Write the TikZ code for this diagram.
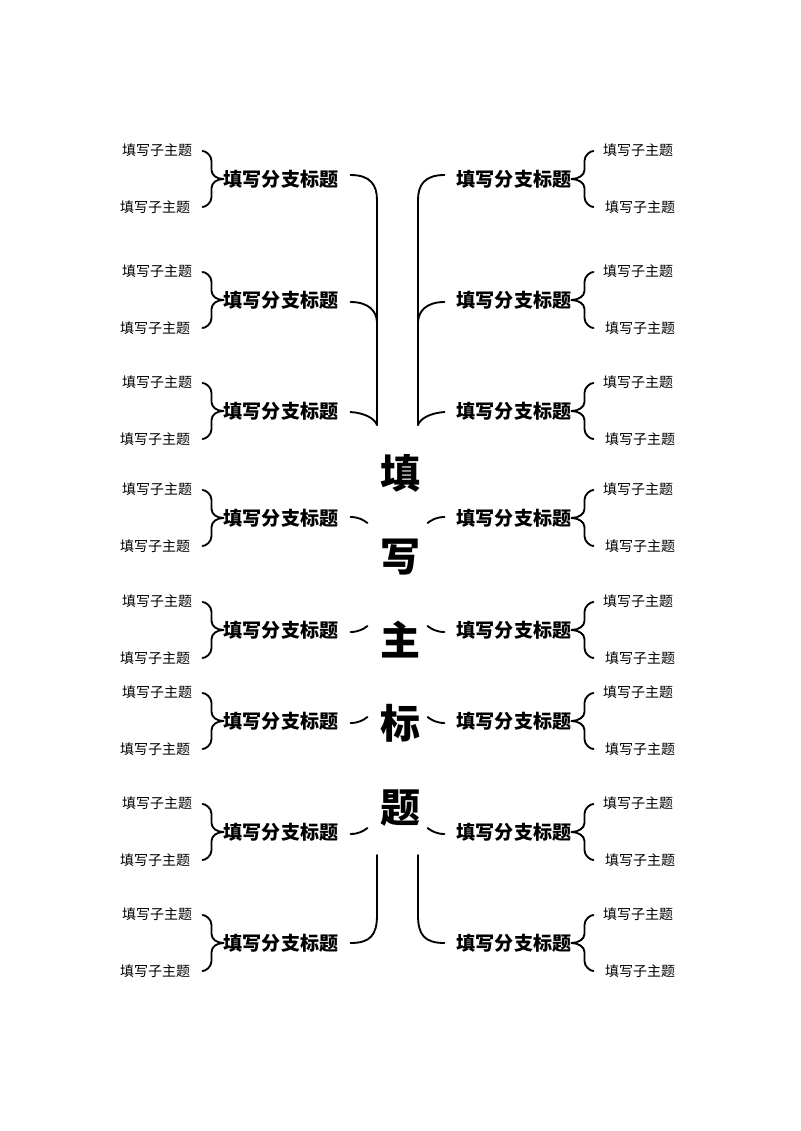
\documentclass[tikz,border=0pt]{standalone}
\usepackage{fontspec}
\setmainfont{Noto Sans CJK SC}
\usetikzlibrary{calc}
\begin{document}
\begin{tikzpicture}[x=0.75pt,y=-0.75pt,
  line/.style={line width=1.4pt,black,line cap=round},
  sub/.style={font=\fontsize{10.5}{12}\selectfont,inner sep=0pt},
  branch/.style={font=\bfseries\fontsize{14.3}{16}\selectfont,inner sep=0pt},
  centre/.style={font=\bfseries\fontsize{30}{32}\selectfont,inner sep=0pt}]
\useasboundingbox[fill=white] (0,0) rectangle (800,1131);
% central title
\foreach \c/\y/\t in {1/473/填,2/557/写,3/640/主,4/723/标,5/808/题}{
  \node[centre] (C\c) at (400,\y) {\t};
}
% branches with sub-topics and braces
\foreach \i/\y in {1/179,2/300,3/411,4/518,5/630,6/721,7/832,8/943}{
  \node[branch] (L\i) at (281,\y) {填写分支标题};
  \node[branch] (R\i) at (514,\y) {填写分支标题};
  \node[sub] (L\i a) at (157,\y-29) {填写子主题};
  \node[sub] (L\i b) at (155,\y+28) {填写子主题};
  \node[sub] (R\i a) at (638,\y-29) {填写子主题};
  \node[sub] (R\i b) at (640,\y+28) {填写子主题};
  \draw[line] (L\i.west) .. controls +(-7,0) and +(0,5) .. ++(-12,-9) -- ++(0,-9) .. controls +(0,-6) and +(3,0) .. ++(-9,-10);
  \draw[line] (L\i.west) .. controls +(-7,0) and +(0,-5) .. ++(-12,9) -- ++(0,9) .. controls +(0,6) and +(3,0) .. ++(-9,10);
  \draw[line] (R\i.east) .. controls +(7,0) and +(0,5) .. ++(13,-9) -- ++(0,-9) .. controls +(0,-6) and +(-3,0) .. ++(9,-10);
  \draw[line] (R\i.east) .. controls +(7,0) and +(0,-5) .. ++(13,9) -- ++(0,9) .. controls +(0,6) and +(-3,0) .. ++(9,10);
}
\coordinate (Ltop) at (377,425);
\coordinate (Rtop) at (418,425);
\coordinate (Lbot) at (377,855);
\coordinate (Rbot) at (418,855);
% upper trunks
\draw[line] ($(L1.east)+(12,-4)$) .. controls +(20,0) and +(0,-15) .. ($(Ltop |- L1)+(0,21)$) -- (Ltop);
\draw[line] ($(L2.east)+(12,2)$) .. controls +(18,0) and +(0,-12) .. ($(Ltop |- L2)+(0,23)$);
\draw[line] ($(L3.east)+(12,1)$) .. controls +(15,1) and +(-2,-6) .. (Ltop);
\draw[line] ($(R1.west)+(-12,-4)$) .. controls +(-20,0) and +(0,-15) .. ($(Rtop |- R1)+(0,21)$) -- (Rtop);
\draw[line] ($(R2.west)+(-12,2)$) .. controls +(-18,0) and +(0,-12) .. ($(Rtop |- R2)+(0,23)$);
\draw[line] ($(R3.west)+(-12,1)$) .. controls +(-15,1) and +(2,-6) .. (Rtop);
% short middle arcs
\draw[line] ($(L4.east)+(12,-1)$) .. controls +(8,0) and +(-4,-3) .. ++(17,6);
\draw[line] ($(R4.west)+(-12,-1)$) .. controls +(-8,0) and +(4,-3) .. ++(-17,6);
\foreach \i in {5,6,7}{
  \draw[line] ($(L\i.east)+(12,2)$) .. controls +(8,0) and +(-4,3) .. ++(17,-6);
  \draw[line] ($(R\i.west)+(-12,2)$) .. controls +(-8,0) and +(4,3) .. ++(-17,-6);
}
% lower trunks
\draw[line] (Lbot) -- ($(Lbot |- L8)+(0,-28)$) .. controls +(0,20) and +(20,0) .. ($(L8.east)+(12,0)$);
\draw[line] (Rbot) -- ($(Rbot |- R8)+(0,-28)$) .. controls +(0,20) and +(-20,0) .. ($(R8.west)+(-12,0)$);
\end{tikzpicture}
\end{document}
